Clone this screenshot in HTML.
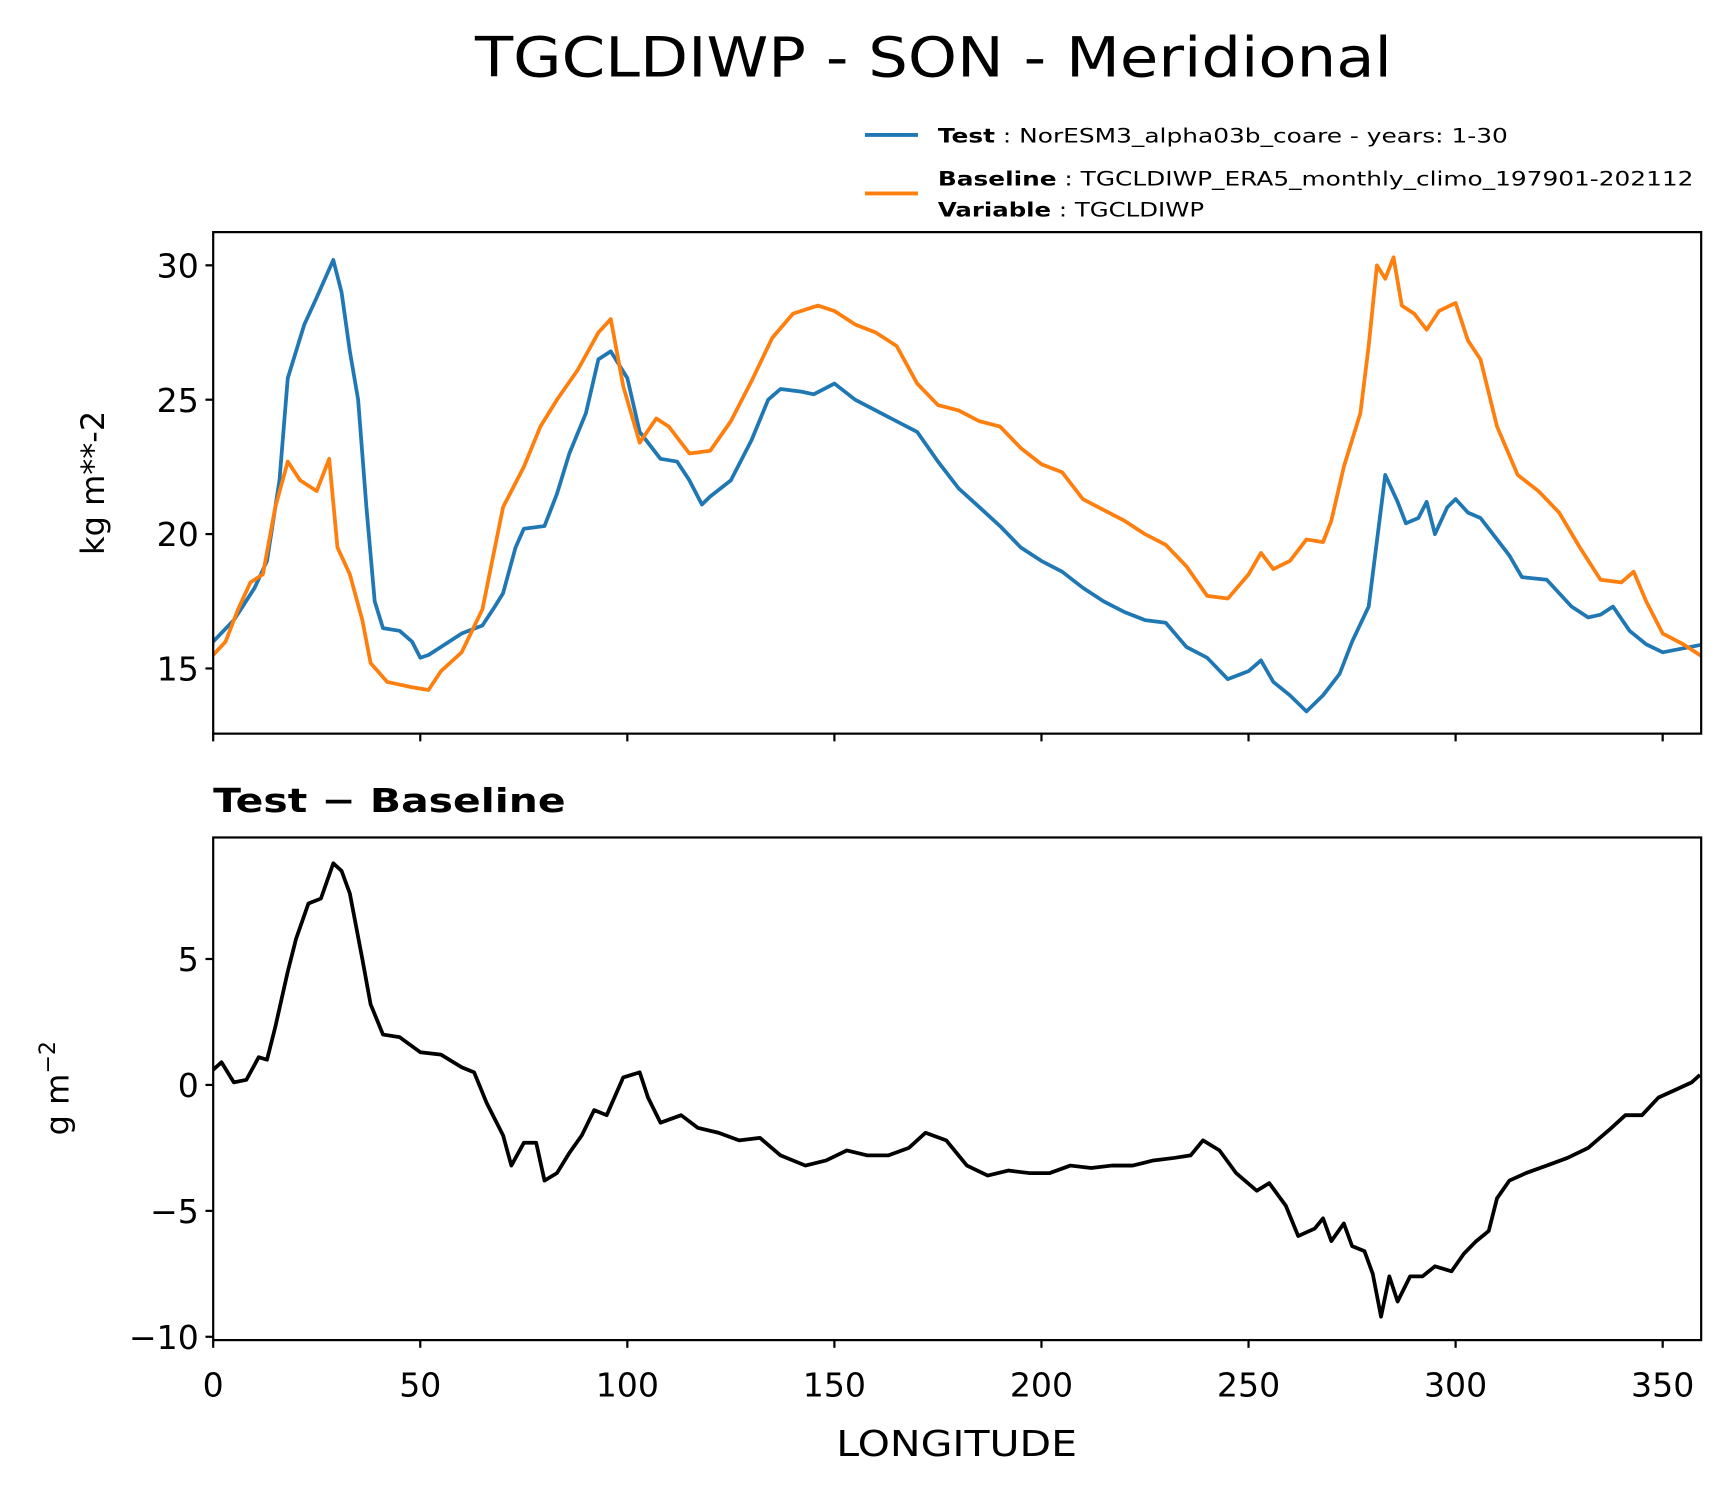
<!DOCTYPE html>
<html><head><meta charset="utf-8"><style>
html,body{margin:0;padding:0;background:#fff}
svg{display:block;font-family:"DejaVu Sans","Liberation Sans",sans-serif}
</style></head><body>
<svg id="chart" width="1731" height="1496" viewBox="0 0 1567 1354" xmlns="http://www.w3.org/2000/svg">
<defs>
<clipPath id="c1"><rect x="193" y="210" width="1347" height="454"/></clipPath>
<clipPath id="c2"><rect x="193" y="758" width="1347" height="455"/></clipPath>
</defs>
<rect width="1567" height="1354" fill="#fff"/>
<text x="430" y="69" font-size="50" textLength="830" lengthAdjust="spacingAndGlyphs">TGCLDIWP - SON - Meridional</text>
<g font-size="18">
<line x1="783" y1="122" x2="831" y2="122" stroke="#1f77b4" stroke-width="3.5"/>
<text x="849" y="129" textLength="516" lengthAdjust="spacingAndGlyphs"><tspan font-weight="bold">Test</tspan> : NorESM3_alpha03b_coare - years: 1-30</text>
<line x1="783" y1="175" x2="831" y2="175" stroke="#ff7f0e" stroke-width="3.5"/>
<text x="849" y="168" textLength="684" lengthAdjust="spacingAndGlyphs"><tspan font-weight="bold">Baseline</tspan> : TGCLDIWP_ERA5_monthly_climo_197901-202112</text>
<text x="849" y="196" textLength="241" lengthAdjust="spacingAndGlyphs"><tspan font-weight="bold">Variable</tspan> : TGCLDIWP</text>
</g>
<g id="topPanel"></g>
<g id="botPanel"></g>
<text transform="translate(94,437) rotate(-90)" font-size="29" text-anchor="middle">kg m**-2</text>
<text transform="translate(62,985) rotate(-90)" font-size="29" text-anchor="middle">g m<tspan dy="-12" font-size="20">−2</tspan></text>
<text x="193" y="735" font-size="30" font-weight="bold" textLength="319" lengthAdjust="spacingAndGlyphs">Test − Baseline</text>
<text x="757" y="1318" font-size="32" textLength="218" lengthAdjust="spacingAndGlyphs">LONGITUDE</text>
</svg>
<script>
const lonTest=[0,5,10,13,16,18,20,22,25,27,29,31,33,35,37,39,41,45,48,50,52,55,60,65,68,70,73,75,80,83,86,90,93,96,100,103,108,112,115,118,120,125,130,134,137,142,145,150,155,160,165,170,175,180,185,190,195,200,205,210,215,220,225,230,235,240,245,250,253,256,260,264,268,272,275,279,283,286,288,291,293,295,298,300,303,306,310,313,316,322,328,332,335,338,342,346,350,360];
const valTest=[16.0,16.8,18.0,19,22,25.8,26.8,27.8,28.8,29.5,30.2,29,26.8,25,21,17.5,16.5,16.4,16,15.4,15.5,15.8,16.3,16.6,17.3,17.8,19.5,20.2,20.3,21.5,23,24.5,26.5,26.8,25.8,23.8,22.8,22.7,22,21.1,21.4,22,23.5,25,25.4,25.3,25.2,25.6,25,24.6,24.2,23.8,22.7,21.7,21,20.3,19.5,19.0,18.6,18,17.5,17.1,16.8,16.7,15.8,15.4,14.6,14.9,15.3,14.5,14,13.4,14,14.8,16,17.3,22.2,21.2,20.4,20.6,21.2,20,21,21.3,20.8,20.6,19.8,19.2,18.4,18.3,17.3,16.9,17,17.3,16.4,15.9,15.6,15.9];
const lonBase=[0,3,6,9,12,15,18,21,25,28,30,33,36,38,42,45,48,52,55,60,65,70,75,79,83,88,93,96,99,103,107,110,115,120,125,130,135,140,146,150,155,160,165,170,175,180,185,190,195,200,205,210,215,220,225,230,235,240,245,250,253,256,260,264,268,270,273,277,279,281,283,285,287,290,293,296,300,303,306,310,315,320,325,330,335,340,343,346,350,355,360];
const valBase=[15.5,16.0,17.2,18.2,18.5,21,22.7,22.0,21.6,22.8,19.5,18.5,16.8,15.2,14.5,14.4,14.3,14.2,14.9,15.6,17.2,21,22.5,24,25,26.1,27.5,28,25.5,23.4,24.3,24.0,23.0,23.1,24.2,25.7,27.3,28.2,28.5,28.3,27.8,27.5,27,25.6,24.8,24.6,24.2,24,23.2,22.6,22.3,21.3,20.9,20.5,20.0,19.6,18.8,17.7,17.6,18.5,19.3,18.7,19.0,19.8,19.7,20.5,22.5,24.5,27,30,29.5,30.3,28.5,28.2,27.6,28.3,28.6,27.2,26.5,24,22.2,21.6,20.8,19.5,18.3,18.2,18.6,17.5,16.3,15.9,15.4];
const lonDiff=[0,2,5,8,11,13,15,18,20,23,26,29,31,33,36,38,41,45,50,55,60,63,66,70,72,75,78,80,83,86,89,92,95,99,103,105,108,113,117,122,127,132,137,143,148,153,158,163,168,172,177,182,187,192,197,202,207,212,217,222,227,232,236,239,243,247,252,255,259,262,266,268,270,273,275,278,280,282,284,286,289,292,295,299,302,305,308,310,313,317,322,327,332,337,341,345,349,353,357,359];
const valDiff=[0.6,0.9,0.1,0.2,1.1,1,2.3,4.5,5.8,7.2,7.4,8.8,8.5,7.6,5,3.2,2.0,1.9,1.3,1.2,0.7,0.5,-0.7,-2,-3.2,-2.3,-2.3,-3.8,-3.5,-2.7,-2,-1,-1.2,0.3,0.5,-0.5,-1.5,-1.2,-1.7,-1.9,-2.2,-2.1,-2.8,-3.2,-3.0,-2.6,-2.8,-2.8,-2.5,-1.9,-2.2,-3.2,-3.6,-3.4,-3.5,-3.5,-3.2,-3.3,-3.2,-3.2,-3.0,-2.9,-2.8,-2.2,-2.6,-3.5,-4.2,-3.9,-4.8,-6.0,-5.7,-5.3,-6.2,-5.5,-6.4,-6.6,-7.5,-9.2,-7.6,-8.6,-7.6,-7.6,-7.2,-7.4,-6.7,-6.2,-5.8,-4.5,-3.8,-3.5,-3.2,-2.9,-2.5,-1.8,-1.2,-1.2,-0.5,-0.2,0.1,0.4];
const topTicks=[15,20,25,30];
const botTicks=[-10,-5,0,5];
const xTicks=[0,50,100,150,200,250,300,350];

const NS='http://www.w3.org/2000/svg';
const X=v=>193+v*3.749;
const Y1=v=>605-(v-15)*24.33;
const Y2=v=>982-v*22.8;
function mk(parent,tag,attrs){const e=document.createElementNS(NS,tag);for(const k in attrs)e.setAttribute(k,attrs[k]);parent.appendChild(e);return e;}
const topG=document.getElementById('topPanel'), botG=document.getElementById('botPanel');
function drawLine(parent,xs,ys,Y,color,clip,name){
  const d=xs.map((x,i)=>(i?'L':'M')+X(x).toFixed(1)+' '+Y(ys[i]).toFixed(1)).join('');
  const p=mk(parent,'path',{d:d,fill:'none',stroke:color,'stroke-width':3.4,'stroke-linejoin':'round','clip-path':'url(#'+clip+')'});
  
  
}
drawLine(topG,lonTest,valTest,Y1,'#1f77b4','c1','test-series-line');
drawLine(topG,lonBase,valBase,Y1,'#ff7f0e','c1','baseline-series-line');
drawLine(botG,lonDiff,valDiff,Y2,'#000','c2','difference-series-line');
const f1=mk(topG,'rect',{x:193,y:210,width:1347,height:454,fill:'none',stroke:'#000','stroke-width':2});


const f2=mk(botG,'rect',{x:193,y:758,width:1347,height:455,fill:'none',stroke:'#000','stroke-width':2});


topTicks.forEach(t=>{
  const y=Y1(t);
  mk(topG,'line',{x1:186,x2:193,y1:y,y2:y,stroke:'#000','stroke-width':2});
  const tx=mk(topG,'text',{x:180,y:y+11,'font-size':30,'text-anchor':'end'});
  tx.textContent=t;
  
  
});
botTicks.forEach(t=>{
  const y=Y2(t);
  mk(botG,'line',{x1:186,x2:193,y1:y,y2:y,stroke:'#000','stroke-width':2});
  const tx=mk(botG,'text',{x:180,y:y+11,'font-size':30,'text-anchor':'end'});
  tx.textContent=t<0?'−'+(-t):t;
  
  
});
xTicks.forEach(t=>{
  const x=X(t);
  mk(topG,'line',{x1:x,x2:x,y1:664,y2:671,stroke:'#000','stroke-width':2});
  mk(botG,'line',{x1:x,x2:x,y1:1213,y2:1220,stroke:'#000','stroke-width':2});
  const tx=mk(botG,'text',{x:x,y:1264,'font-size':30,'text-anchor':'middle'});
  tx.textContent=t;
  
  
});
</script>
</body></html>
